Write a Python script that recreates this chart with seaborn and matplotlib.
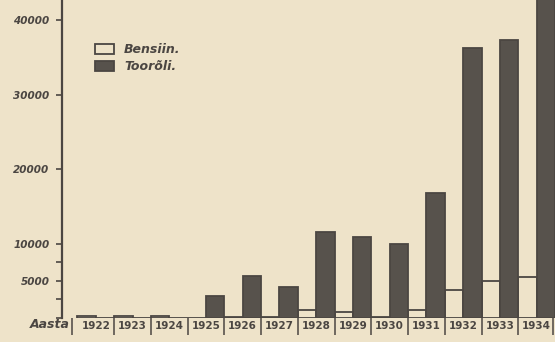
import numpy as np
import pandas as pd
import seaborn as sns
import matplotlib.pyplot as plt

# aastad ja kogused
years = ['1922', '1923', '1924', '1925', '1926', '1927', '1928',
         '1929', '1930', '1931', '1932', '1933', '1934']
bensiin = [300, 300, 300, 0, 150, 150, 1100, 800, 200, 1100, 3800, 5000, 5500]
tooroli = [0, 0, 0, 3000, 5600, 4200, 11600, 10900, 9900, 16800, 36200, 37300, 44000]
ytick_vals = [0, 2500, 5000, 7500, 10000, 20000, 30000, 40000]
ytick_labels = ['', '', '5000', '', '10000', '20000', '30000', '40000']

df = pd.DataFrame({
    'aasta': years * 2,
    'kogus': bensiin + tooroli,
    'liik': ['Bensiin.'] * len(years) + ['Toorõli.'] * len(years),
})

paper = '#eee3c9'
ink = '#4b4642'
dark = '#57524c'

sns.set_theme(style='white', rc={'figure.facecolor': paper, 'axes.facecolor': paper})
plt.rcParams['font.family'] = ['DejaVu Sans']

fig = plt.figure(figsize=(5.55, 3.42), dpi=100)
ax = fig.add_axes([62 / 555, 24 / 342, 1 - 62 / 555, 318 / 342])

sns.barplot(data=df, x='aasta', y='kogus', hue='liik',
            palette={'Bensiin.': paper, 'Toorõli.': dark}, saturation=1,
            width=1.0, edgecolor=ink, linewidth=1.3, ax=ax)

ax.set_xlim(-0.92, 12.5)
ax.set_ylim(0, 42700)
ax.set_xlabel('')
ax.set_ylabel('')

# y telg
ax.set_yticks(ytick_vals)
ax.set_yticklabels(ytick_labels, fontsize=7.5, fontweight='bold',
                   fontstyle='italic', color=ink)
ax.tick_params(axis='y', which='major', left=True, length=4, width=1.2,
               color=ink, pad=5)
for s in ['top', 'right', 'bottom']:
    ax.spines[s].set_visible(False)
ax.spines['left'].set_color(ink)
ax.spines['left'].set_linewidth(1.6)

# x telg: aastad ja eraldajad
ax.set_xticks(range(len(years)))
ax.set_xticklabels(years, fontsize=7.5, fontweight='bold', color=ink)
ax.tick_params(axis='x', which='major', length=0, pad=2)
ax.set_xticks([-0.65] + list(np.arange(len(years) - 1) + 0.5) + [12.45], minor=True)
ax.tick_params(axis='x', which='minor', bottom=True, length=12, width=1.1,
               color=ink, direction='out')

fig.text(0.09, 0.05, 'Aasta', ha='center', va='center', fontsize=9,
         fontweight='bold', fontstyle='italic', color=ink)

leg = ax.legend(loc='upper left', bbox_to_anchor=(0.045, 0.9), frameon=False,
                title=None, fontsize=9, handlelength=1.5, handleheight=0.9,
                labelspacing=0.35, handletextpad=0.8)
for t in leg.get_texts():
    t.set_color(ink)
    t.set_fontweight('bold')
    t.set_fontstyle('italic')

fig.savefig('out.png', dpi=100, facecolor=paper)
